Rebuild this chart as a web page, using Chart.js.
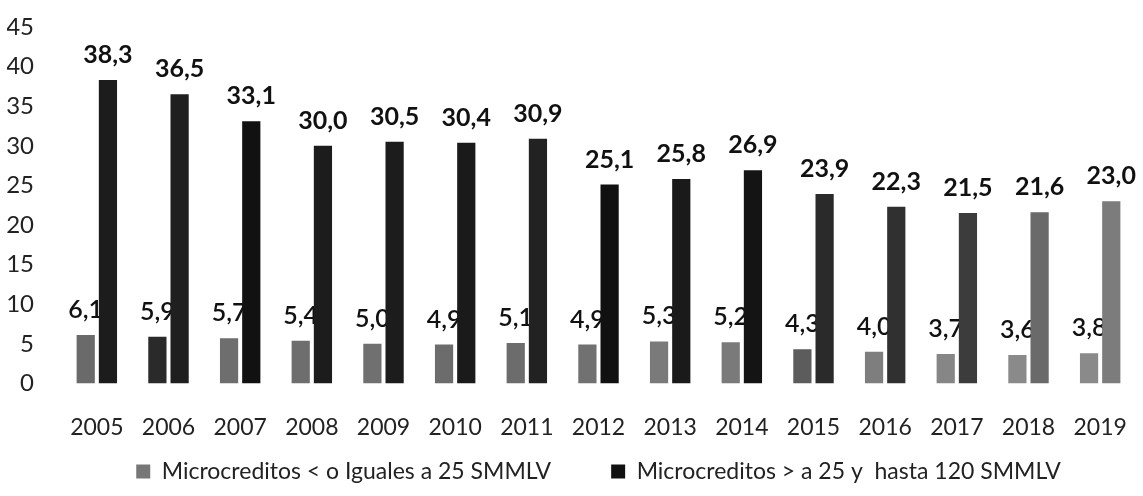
<!DOCTYPE html>
<html lang="es">
<head>
<meta charset="utf-8">
<title>Microcreditos</title>
<script src="https://cdn.jsdelivr.net/npm/chart.js@4.4.1/dist/chart.umd.min.js"></script>
<style>
  html, body { margin: 0; padding: 0; background: #ffffff; }
  #wrap { width: 1143px; height: 496px; }
</style>
</head>
<body>
<div id="wrap"><canvas id="microChart" width="1143" height="496"></canvas></div>
<script>
// Datos
const years = ["2005", "2006", "2007", "2008", "2009", "2010", "2011", "2012", "2013", "2014", "2015", "2016", "2017", "2018", "2019"];
const menores25 = [6.1, 5.9, 5.7, 5.4, 5.0, 4.9, 5.1, 4.9, 5.3, 5.2, 4.3, 4.0, 3.7, 3.6, 3.8];
const entre25y120 = [38.3, 36.5, 33.1, 30.0, 30.5, 30.4, 30.9, 25.1, 25.8, 26.9, 23.9, 22.3, 21.5, 21.6, 23.0];
const yTicks = [0, 5, 10, 15, 20, 25, 30, 35, 40, 45];

// El escaneo aclara las barras oscuras hacia la derecha
const darkColors = ["#1c1c1c", "#1f1f1f", "#111111", "#1c1c1c", "#1c1c1c", "#1a1a1a", "#222222", "#111111", "#1a1a1a", "#141414", "#2a2a2a", "#303030", "#3c3c3c", "#6a6a6a", "#7c7c7c"];
const greyColors = ["#6a6a6a", "#2a2a2a", "#6e6e6e", "#6e6e6e", "#707070", "#6c6c6c", "#6c6c6c", "#717171", "#7a7a7a", "#7a7a7a", "#5c5c5c", "#7e7e7e", "#868686", "#8a8a8a", "#8a8a8a"];

const FONT = "Lato, 'Open Sans', sans-serif";

function formatValue(v) {
  return v.toFixed(1).replace(".", ",");
}

function drawLabels(chart, datasetIndex, weight) {
  const ctx = chart.ctx;
  const meta = chart.getDatasetMeta(datasetIndex);
  const data = chart.data.datasets[datasetIndex].data;
  ctx.save();
  ctx.font = `${weight} 25px ${FONT}`;
  ctx.fillStyle = "#111111";
  ctx.textAlign = "center";
  ctx.textBaseline = "alphabetic";
  meta.data.forEach((bar, i) => {
    ctx.fillText(formatValue(data[i]), bar.x, bar.y - 17);
  });
  ctx.restore();
}

// Las etiquetas de la serie gris quedan tapadas por las barras oscuras
const valueLabels = {
  id: "valueLabels",
  beforeDatasetsDraw(chart) {
    drawLabels(chart, 0, "600");
  },
  afterDatasetsDraw(chart) {
    drawLabels(chart, 1, "bold");
  },
};

new Chart(document.getElementById("microChart"), {
  type: "bar",
  data: {
    labels: years,
    datasets: [
      {
        label: "Microcreditos < o Iguales a 25 SMMLV",
        data: menores25,
        backgroundColor: greyColors,
        barPercentage: 0.82,
        categoryPercentage: 0.62,
      },
      {
        label: "Microcreditos > a 25 y  hasta 120 SMMLV",
        data: entre25y120,
        backgroundColor: darkColors,
        barPercentage: 0.82,
        categoryPercentage: 0.62,
      },
    ],
  },
  options: {
    responsive: false,
    animation: false,
    layout: { padding: { top: 27, right: 7, left: 7, bottom: 3 } },
    plugins: {
      tooltip: { enabled: false },
      legend: {
        position: "bottom",
        fullSize: false,
        labels: {
          color: "#222222",
          font: { family: FONT, size: 23 },
          boxWidth: 14,
          boxHeight: 14,
          padding: 14,
          generateLabels(chart) {
            return chart.data.datasets.map((ds, i) => ({
              // espacio extra para separar las dos entradas como en el original
              text: i === 0 ? ds.label + "\u2003\u2003\u2002" : ds.label,
              fillStyle: i === 0 ? "#777777" : "#111111",
              strokeStyle: "transparent",
              lineWidth: 0,
              datasetIndex: i,
              fontColor: "#222222",
            }));
          },
        },
      },
    },
    scales: {
      x: {
        grid: { display: false, drawTicks: false },
        border: { display: false },
        ticks: { color: "#222222", font: { family: FONT, size: 23 }, padding: 30, maxRotation: 0 },
        afterFit(scale) {
          scale.height -= 25;
          scale.paddingLeft = 0;
          scale.paddingRight = 0;
        },
      },
      y: {
        min: 0,
        max: 45,
        afterBuildTicks(axis) {
          axis.ticks = yTicks.map((v) => ({ value: v }));
        },
        afterFit(scale) {
          scale.width = 54;
          scale.paddingTop = 14;
        },
        grid: { display: false, drawTicks: false },
        border: { display: false },
        ticks: { color: "#222222", font: { family: FONT, size: 24 }, padding: 27 },
      },
    },
  },
  plugins: [valueLabels],
});
</script>
</body>
</html>
